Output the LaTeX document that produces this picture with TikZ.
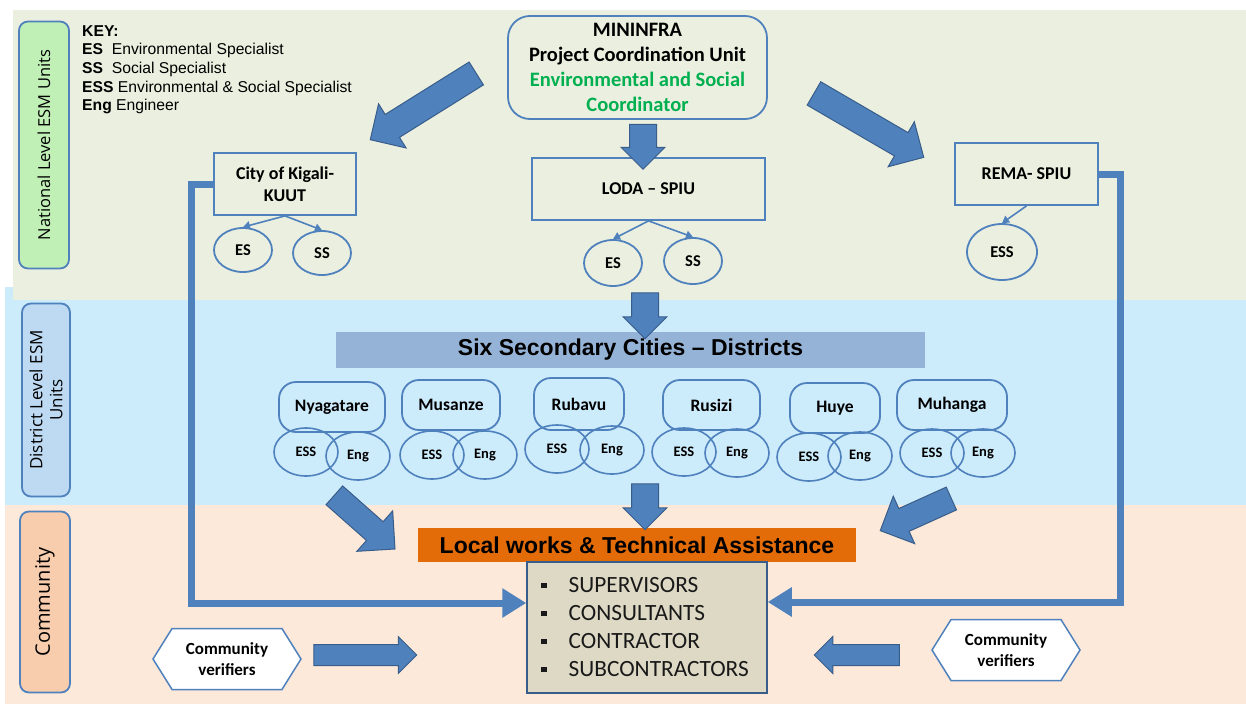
\documentclass[tikz,border=0pt]{standalone}
\usepackage{fontspec}
\setmainfont{Carlito}
\newfontfamily\arialfont[Ligatures=TeX]{Liberation Sans}
\newfontfamily\sidefont{Open Sans}
\usetikzlibrary{shapes.geometric,shapes.arrows,shapes.symbols,arrows.meta}
\definecolor{bandgreen}{HTML}{EBEFDF}
\definecolor{bandblue}{HTML}{CCEBFB}
\definecolor{bandpeach}{HTML}{FDE9DA}
\definecolor{labgreen}{HTML}{C0F0B6}
\definecolor{labblue}{HTML}{BDDAF2}
\definecolor{labpeach}{HTML}{F8CDAE}
\definecolor{unitblue}{HTML}{4F81BD}
\definecolor{arrowedge}{HTML}{385D8A}
\definecolor{sixfill}{HTML}{95B3D7}
\definecolor{workorange}{HTML}{E36C09}
\definecolor{listfill}{HTML}{DDD9C4}
\definecolor{coordgreen}{HTML}{00B050}
\newcommand{\sqbul}{\rule[0.2em]{0.24em}{0.24em}\hspace{0.95em}}
\begin{document}
\begin{tikzpicture}[x=1pt,y=-1pt,
    unitbox/.style={draw=unitblue, line width=1.8pt, align=center, font=\bfseries\fontsize{18}{21.5}\selectfont},
    member/.style={ellipse, draw=unitblue, line width=1.8pt, inner sep=0pt, font=\bfseries\fontsize{16.5}{19}\selectfont},
    distbox/.style={draw=unitblue, line width=1.8pt, rounded corners=17pt, font=\bfseries\fontsize{17.5}{20}\selectfont},
    distmember/.style={ellipse, draw=unitblue, line width=1.6pt, inner sep=0pt, minimum width=64pt, minimum height=48pt, font=\bfseries\fontsize{14.5}{16}\selectfont},
    sidelab/.style={rectangle, rounded corners=9pt, draw=unitblue, line width=1.8pt, rotate=90, align=center, font=\sidefont\fontsize{16.5}{20}\selectfont},
    fat/.style={single arrow, draw=arrowedge, fill=unitblue, line width=1pt, inner xsep=0pt, inner ysep=13pt, minimum width=0pt, single arrow head extend=12.5pt},
    thin/.style={fat, inner ysep=10pt, single arrow head extend=8pt},
    feed/.style={unitblue, line width=1.6pt, -{Triangle[length=7pt, width=8pt]}},
    report/.style={unitblue, line width=7pt, -{Triangle[length=24pt, width=28pt]}},
    verifier/.style={signal, signal to=west and east, signal pointer angle=116, draw=unitblue, line width=1.5pt, fill=white, align=center, minimum width=148pt, minimum height=61pt, font=\bfseries\fontsize{17}{21}\selectfont}]
  \useasboundingbox (0,0) rectangle (1246,704);
  % bands
  \fill[bandblue] (5,287) rectangle (1246,505);
  \fill[bandgreen] (13,10) rectangle (1246,300);
  \fill[bandpeach] (5,505) rectangle (1246,704);
  \node[sidelab, fill=labgreen, minimum width=247pt, minimum height=50pt] (natlab) at (44,145) {National Level ESM Units};
  \node[sidelab, fill=labblue, minimum width=193pt, minimum height=48pt, font=\sidefont\fontsize{17}{20}\selectfont] (distlab) at (46,400) {District Level ESM\\ Units};
  \node[sidelab, fill=labpeach, minimum width=181pt, minimum height=50pt, font=\sidefont\fontsize{20}{24}\selectfont] (comlab) at (45,602) {Community};
  % key
  \node[anchor=north west, align=left, inner sep=0pt, font=\arialfont\fontsize{15.7}{18.7}\selectfont] (key) at (82,25)
    {\textbf{KEY:}\\ \textbf{ES}\ \ Environmental Specialist\\ \textbf{SS}\ \ Social Specialist\\
     \textbf{ESS} Environmental \& Social Specialist\\ \textbf{Eng} Engineer};
  % national level
  \node[unitbox, rounded corners=22pt, minimum width=259pt, minimum height=103pt, font=\bfseries\fontsize{20.5}{25}\selectfont] (pcu) at (637.5,67.5)
    {MININFRA\\ Project Coordination Unit\\ \textcolor{coordgreen}{Environmental and Social}\\ \textcolor{coordgreen}{Coordinator}};
  \node[unitbox, minimum width=142pt, minimum height=62pt] (kigali) at (285,184) {City of Kigali-\\ KUUT};
  \node[unitbox, minimum width=233pt, minimum height=62pt] (loda) at (648.5,189) {LODA -- SPIU};
  \node[unitbox, minimum width=143pt, minimum height=62pt] (rema) at (1026.5,174) {REMA- SPIU};
  \node[member, minimum width=58pt, minimum height=44pt] (kigES) at (243,250) {ES};
  \node[member, minimum width=58pt, minimum height=44pt] (kigSS) at (322,253) {SS};
  \node[member, minimum width=58pt, minimum height=46pt] (lodaES) at (613,263) {ES};
  \node[member, minimum width=58pt, minimum height=46pt] (lodaSS) at (693,261) {SS};
  \node[member, minimum width=70pt, minimum height=56pt] (remaESS) at (1002,252) {ESS};
  \draw[feed] (kigali.south) -- (kigES.north);
  \draw[feed] (kigali.south) -- (kigSS.north);
  \draw[feed] (loda.south) -- (lodaES.north);
  \draw[feed] (loda.south) -- (lodaSS.north);
  \draw[feed] (rema.south) -- (remaESS.north);
  % districts
  \node[fill=sixfill, minimum width=589pt, minimum height=36pt, font=\arialfont\bfseries\fontsize{23}{26}\selectfont] (six) at (630.5,350) {Six Secondary Cities -- Districts};
  \node[distbox, minimum width=106pt, minimum height=50pt] (nyag) at (332,407) {Nyagatare};
  \node[distbox, minimum width=98pt, minimum height=50pt] (musa) at (451,405) {Musanze};
  \node[distbox, minimum width=90pt, minimum height=52pt] (ruba) at (579,404) {Rubavu};
  \node[distbox, minimum width=97pt, minimum height=50pt] (rusi) at (711.5,405) {Rusizi};
  \node[distbox, minimum width=90pt, minimum height=50pt] (huye) at (835,408) {Huye};
  \node[distbox, minimum width=110pt, minimum height=50pt] (muha) at (952,405) {Muhanga};
  \node[distmember] (nyagESS) at (306,452) {ESS};
  \node[distmember] (nyagEng) at (358,456) {Eng};
  \node[distmember] (musaESS) at (432,455) {ESS};
  \node[distmember] (musaEng) at (485,455) {Eng};
  \node[distmember] (rubaESS) at (557,449) {ESS};
  \node[distmember] (rubaEng) at (612,450) {Eng};
  \node[distmember] (rusiESS) at (684,452) {ESS};
  \node[distmember] (rusiEng) at (737,453) {Eng};
  \node[distmember] (huyeESS) at (809,457) {ESS};
  \node[distmember] (huyeEng) at (860,456) {Eng};
  \node[distmember] (muhaESS) at (932,453) {ESS};
  \node[distmember] (muhaEng) at (983,453) {Eng};
  % community level
  \node[fill=workorange, minimum width=438pt, minimum height=34pt, font=\arialfont\bfseries\fontsize{23}{26}\selectfont] (works) at (637,545) {Local works \& Technical Assistance};
  \node[draw=arrowedge, line width=1.5pt, fill=listfill, minimum width=240pt, minimum height=131pt, inner xsep=14pt, text width=212pt, align=left, font=\fontsize{23.3}{28}\selectfont, text=black!90] (list) at (647,627.5)
    {\sqbul SUPERVISORS\\ \sqbul CONSULTANTS\\ \sqbul CONTRACTOR\\ \sqbul SUBCONTRACTORS};
  \node[verifier] (verL) at (227,659) {Community\\ verifiers};
  \node[verifier] (verR) at (1006,650) {Community\\ verifiers};
  % block arrows
  \node[fat, minimum height=125pt, rotate=212] (toKigali) at (429,103) {};
  \node[fat, minimum height=127pt, rotate=-30.2] (toRema) at (863,122) {};
  \node[fat, minimum height=45pt, single arrow head extend=8.5pt, rotate=-90] (toLoda) at (643,140) {};
  \node[fat, minimum height=46pt, single arrow head extend=8.5pt, rotate=-90] (toSix) at (645,309) {};
  \node[fat, minimum height=46pt, single arrow head extend=8.5pt, rotate=-90] (toWorks) at (645,500) {};
  \node[fat, minimum height=81pt, inner ysep=12pt, single arrow head extend=14.5pt, rotate=-41.5] (fromWest) at (360,518) {};
  \node[fat, minimum height=78pt, inner ysep=12pt, single arrow head extend=13.5pt, rotate=204.3] (fromEast) at (921.5,512) {};
  \node[thin, minimum height=103pt] (verLarrow) at (360,655) {};
  \node[thin, minimum height=85pt, rotate=180] (verRarrow) at (862,655) {};
  % reporting lines
  \coordinate (kcorner) at (191,603);
  \coordinate (rcorner) at (1120,602);
  \draw[report] (kigali.west) -| (kcorner) -- (kcorner -| list.west);
  \draw[report] (rema.east) -| (rcorner) -- (rcorner -| list.east);
\end{tikzpicture}
\end{document}
